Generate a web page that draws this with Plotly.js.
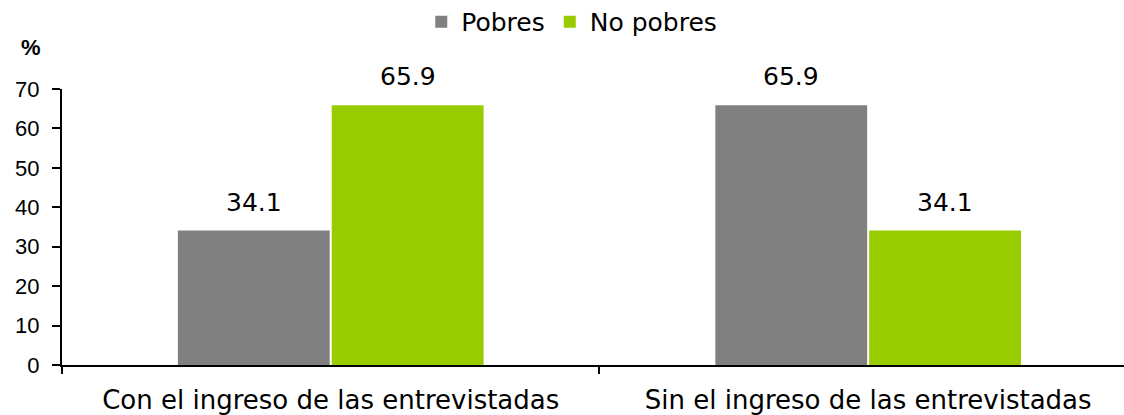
<!DOCTYPE html>
<html>
<head>
<meta charset="utf-8">
<script src="https://cdn.plot.ly/plotly-3.0.1.min.js"></script>
<style>
  body { margin: 0; background: #fff; }
  #myPlot { width: 1124px; height: 415px; }
</style>
</head>
<body>
<div id="myPlot"></div>
<script>
// Chart data
var categories = ["Con el ingreso de las entrevistadas", "Sin el ingreso de las entrevistadas"];
var seriesNames = ["Pobres", "No pobres"];
var pobres = [34.1, 65.9];
var noPobres = [65.9, 34.1];
var yTicks = [0, 10, 20, 30, 40, 50, 60, 70];

var colors = ["#808080", "#99CC00"];
var allSeries = [pobres, noPobres];

// Bars
var data = [];
for (var i = 0; i < allSeries.length; i++) {
    data.push({
        type: "bar",
        name: seriesNames[i],
        x: categories,
        y: allSeries[i],
        marker: { color: colors[i] },
        hoverinfo: "none"
    });
}

// Value labels above each bar
var annotations = [];
for (var i = 0; i < allSeries.length; i++) {
    for (var j = 0; j < categories.length; j++) {
        annotations.push({
            x: categories[j],
            y: allSeries[i][j],
            xref: "x",
            yref: "y",
            text: allSeries[i][j].toFixed(1),
            showarrow: false,
            xshift: i == 0 ? -77 : 77,
            yshift: 12,
            yanchor: "bottom",
            font: { family: "DejaVu Sans", size: 25, color: "#000" }
        });
    }
}

// Unit label
annotations.push({
    x: -0.029,
    y: 1.152,
    xref: "paper",
    yref: "paper",
    xanchor: "center",
    yanchor: "middle",
    text: "<b>%</b>",
    showarrow: false,
    font: { family: "Liberation Sans", size: 22, color: "#000" }
});

var layout = {
    width: 1124,
    height: 415,
    margin: { l: 62, r: 0, t: 89, b: 50 },
    paper_bgcolor: "#fff",
    plot_bgcolor: "#fff",
    barmode: "group",
    bargap: 0.4275,
    bargroupgap: 0.013,
    showlegend: true,
    legend: {
        orientation: "h",
        x: 0.48,
        xanchor: "center",
        yref: "container",
        y: 0.947,
        yanchor: "middle",
        font: { family: "DejaVu Sans", size: 25, color: "#000" },
        itemclick: false
    },
    xaxis: {
        type: "category",
        range: [-0.5, 1.476],
        showline: true,
        linecolor: "#000",
        linewidth: 2,
        ticks: "outside",
        tickson: "boundaries",
        ticklen: 7,
        tickwidth: 2,
        tickcolor: "#000",
        ticklabelstandoff: 11,
        tickfont: { family: "DejaVu Sans", size: 26, color: "#000" },
        showgrid: false,
        zeroline: false,
        fixedrange: true
    },
    yaxis: {
        range: [0, 70],
        tickvals: yTicks,
        showline: true,
        linecolor: "#000",
        linewidth: 2,
        ticks: "outside",
        ticklen: 8,
        tickwidth: 2,
        tickcolor: "#000",
        ticklabelstandoff: 8,
        tickfont: { family: "Liberation Sans", size: 22, color: "#000" },
        showgrid: false,
        zeroline: false,
        fixedrange: true
    },
    annotations: annotations
};

Plotly.newPlot("myPlot", data, layout, { displayModeBar: false, staticPlot: true });
</script>
</body>
</html>
